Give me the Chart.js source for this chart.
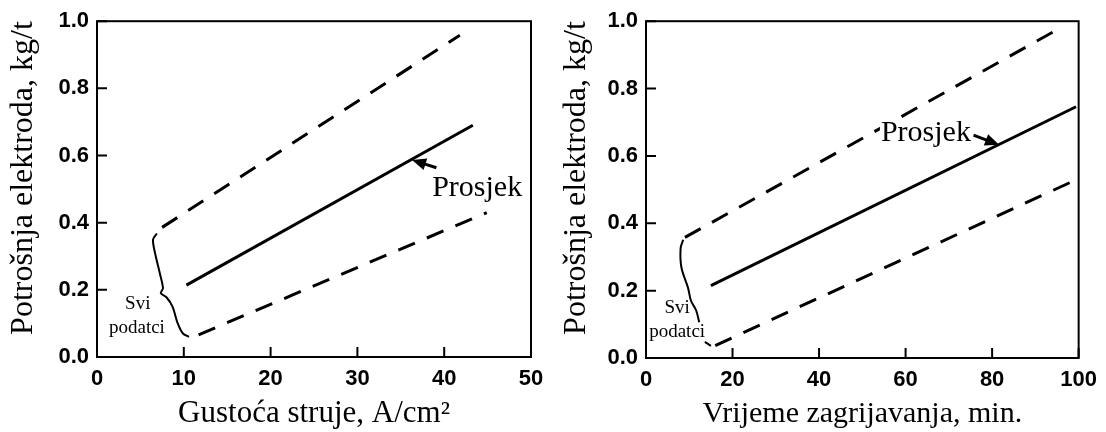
<!DOCTYPE html>
<html>
<head>
<meta charset="utf-8">
<script src="https://cdn.jsdelivr.net/npm/chart.js@4.4.0/dist/chart.umd.min.js"></script>
<style>
    body { margin: 0; background: #fff; }
    #okvir { position: relative; width: 1106px; height: 432px; }
    #lijevi { position: absolute; left: 0; top: 0; }
    #desni { position: absolute; left: 553px; top: 0; }
</style>
</head>
<body>
<div id="okvir">
    <canvas id="lijevi" width="553" height="432"></canvas>
    <canvas id="desni" width="553" height="432"></canvas>
</div>
<script>
// Lijevi graf - gustoća struje
const gustocaGornjaX = [7.5, 41.8];
const gustocaGornjaY = [0.386, 0.958];
const gustocaProsjekX = [10.3, 43.3];
const gustocaProsjekY = [0.214, 0.69];
const gustocaDonjaX = [11.7, 44.9];
const gustocaDonjaY = [0.066, 0.43];
const gustocaZagradaX = [6.9, 6.45, 6.7, 7.25, 7.6, 7.35, 8.0, 8.7, 9.3, 9.9, 10.6];
const gustocaZagradaY = [0.368, 0.35, 0.308, 0.248, 0.205, 0.19, 0.178, 0.15, 0.1, 0.07, 0.06];

// Desni graf - vrijeme zagrijavanja
const vrijemeGornjaX = [9, 96.6];
const vrijemeGornjaY = [0.358, 0.986];
const vrijemeProsjekX = [15, 99.4];
const vrijemeProsjekY = [0.215, 0.746];
const vrijemeDonjaX = [16, 98.7];
const vrijemeDonjaY = [0.037, 0.525];
const vrijemeZagradaX = [8.6, 8.0, 8.2, 9.7, 10.4, 11.6, 12.3, 12.9, 13.6, 15.0];
const vrijemeZagradaY = [0.351, 0.326, 0.268, 0.209, 0.17, 0.141, 0.106, null, 0.048, 0.036];

// Osi
const gustocaTickovi = [0, 10, 20, 30, 40, 50];
const vrijemeTickovi = [0, 20, 40, 60, 80, 100];
const potrosnjaTickovi = [0, 0.2, 0.4, 0.6, 0.8, 1.0];

// Natpisi (koordinate u jedinicama podataka)
const gustocaNatpisi = [
    { tekst: 'Prosjek', x: 43.8, y: 0.48, velicina: 30 },
    { tekst: 'Svi', x: 4.7, y: 0.142, velicina: 19 },
    { tekst: 'podatci', x: 4.6, y: 0.07, velicina: 19 }
];
const gustocaStrelice = [{ x1: 39.1, y1: 0.5635, x2: 36.3, y2: 0.587 }];

const vrijemeNatpisi = [
    { tekst: 'Prosjek', x: 64.7, y: 0.645, velicina: 30, pozadina: true },
    { tekst: 'Svi', x: 7.2, y: 0.133, velicina: 19 },
    { tekst: 'podatci', x: 7.2, y: 0.0625, velicina: 19 }
];
const vrijemeStrelice = [{ x1: 75.7, y1: 0.662, x2: 81.6, y2: 0.633 }];

// pretvori dva niza u točke
function tocke(xs, ys) {
    return xs.map((x, i) => ({ x: x, y: ys[i] }));
}

// okvir, unutarnje crtice, strelice i natpisi
const okvirPlugin = {
    id: 'okvir',
    afterDatasetsDraw(chart, args, opts) {
        const ctx = chart.ctx;
        const a = chart.chartArea;
        const sx = chart.scales.x;
        const sy = chart.scales.y;
        ctx.save();
        ctx.strokeStyle = '#000';
        ctx.fillStyle = '#000';

        // natpisi
        (opts.natpisi || []).forEach(n => {
            ctx.font = n.velicina + 'px "Liberation Serif"';
            ctx.textAlign = 'center';
            ctx.textBaseline = 'alphabetic';
            const px = sx.getPixelForValue(n.x);
            const py = sy.getPixelForValue(n.y);
            if (n.pozadina) {
                const w = ctx.measureText(n.tekst).width;
                ctx.fillStyle = '#fff';
                ctx.fillRect(px - w / 2 - 1, py - n.velicina * 0.72, w + 2, n.velicina * 0.72);
                ctx.fillStyle = '#000';
            }
            ctx.fillText(n.tekst, px, py);
        });

        // strelice
        (opts.strelice || []).forEach(s => {
            const x1 = sx.getPixelForValue(s.x1), y1 = sy.getPixelForValue(s.y1);
            const x2 = sx.getPixelForValue(s.x2), y2 = sy.getPixelForValue(s.y2);
            const kut = Math.atan2(y2 - y1, x2 - x1);
            const duz = 14, pola = 6;
            ctx.lineWidth = 3;
            ctx.beginPath();
            ctx.moveTo(x1, y1);
            ctx.lineTo(x2 - Math.cos(kut) * duz * 0.8, y2 - Math.sin(kut) * duz * 0.8);
            ctx.stroke();
            ctx.beginPath();
            ctx.moveTo(x2, y2);
            ctx.lineTo(x2 - Math.cos(kut) * duz - Math.sin(kut) * pola, y2 - Math.sin(kut) * duz + Math.cos(kut) * pola);
            ctx.lineTo(x2 - Math.cos(kut) * duz + Math.sin(kut) * pola, y2 - Math.sin(kut) * duz - Math.cos(kut) * pola);
            ctx.closePath();
            ctx.fill();
        });

        // okvir
        ctx.lineWidth = 2;
        ctx.strokeRect(a.left, a.top, a.right - a.left, a.bottom - a.top);

        // crtice prema unutra
        ctx.beginPath();
        sx.ticks.forEach(t => {
            const px = sx.getPixelForValue(t.value);
            ctx.moveTo(px, a.bottom);
            ctx.lineTo(px, a.bottom - 10);
        });
        sy.ticks.forEach(t => {
            const py = sy.getPixelForValue(t.value);
            ctx.moveTo(a.left, py);
            ctx.lineTo(a.left + 10, py);
        });
        ctx.stroke();
        ctx.restore();
    }
};

// zajednički skupovi podataka
function skupovi(gornja, prosjek, donja, zagrada) {
    const crtkano = { borderColor: '#000', borderWidth: 3, borderDash: [18, 13], pointRadius: 0, showLine: true };
    return [
        Object.assign({ label: 'gornja granica', data: gornja }, crtkano),
        { label: 'Prosjek', data: prosjek, borderColor: '#000', borderWidth: 3, pointRadius: 0, showLine: true },
        Object.assign({ label: 'donja granica', data: donja }, crtkano),
        { label: 'Svi podatci', data: zagrada, borderColor: '#000', borderWidth: 2, pointRadius: 0, showLine: true, spanGaps: false, tension: 0.3 }
    ];
}

// konfiguracija jednog grafa
function napraviGraf(id, cfg) {
    const tickFont = { family: 'Liberation Sans', size: 22, weight: 'bold' };
    return new Chart(document.getElementById(id), {
        type: 'scatter',
        data: { datasets: cfg.skupovi },
        plugins: [okvirPlugin],
        options: {
            responsive: false,
            animation: false,
            events: [],
            layout: { padding: cfg.padding },
            plugins: {
                legend: { display: false },
                tooltip: { enabled: false },
                okvir: { natpisi: cfg.natpisi, strelice: cfg.strelice }
            },
            scales: {
                x: {
                    type: 'linear',
                    min: cfg.xTickovi[0],
                    max: cfg.xTickovi[cfg.xTickovi.length - 1],
                    afterBuildTicks: s => { s.ticks = cfg.xTickovi.map(v => ({ value: v })); },
                    afterFit: s => { s.height = cfg.visinaX; },
                    grid: { display: false, drawTicks: false },
                    border: { display: false },
                    ticks: { color: '#000', font: tickFont, padding: 9, maxRotation: 0 },
                    title: {
                        display: true, text: cfg.xNaslov, color: '#000',
                        font: { family: 'Liberation Serif', size: cfg.xNaslovVelicina },
                        padding: { top: 0, bottom: 0 }
                    }
                },
                y: {
                    type: 'linear',
                    min: 0,
                    max: 1,
                    afterBuildTicks: s => { s.ticks = potrosnjaTickovi.map(v => ({ value: v })); },
                    afterFit: s => { s.width = cfg.sirinaY; },
                    grid: { display: false, drawTicks: false },
                    border: { display: false },
                    ticks: { color: '#000', font: tickFont, padding: 8, callback: v => v.toFixed(1) },
                    title: {
                        display: true, text: 'Potrošnja elektroda, kg/t', color: '#000', align: 'end',
                        font: { family: 'Liberation Serif', size: 32 },
                        padding: { top: 4, bottom: 0 }
                    }
                }
            }
        }
    });
}

napraviGraf('lijevi', {
    skupovi: skupovi(
        tocke(gustocaGornjaX, gustocaGornjaY),
        tocke(gustocaProsjekX, gustocaProsjekY),
        tocke(gustocaDonjaX, gustocaDonjaY),
        tocke(gustocaZagradaX, gustocaZagradaY)
    ),
    xTickovi: gustocaTickovi,
    xNaslov: 'Gustoća struje, A/cm²',
    xNaslovVelicina: 31,
    natpisi: gustocaNatpisi,
    strelice: gustocaStrelice,
    padding: { top: 20, right: 22, left: 0, bottom: 0 },
    sirinaY: 97,
    visinaX: 75
});

napraviGraf('desni', {
    skupovi: skupovi(
        tocke(vrijemeGornjaX, vrijemeGornjaY),
        tocke(vrijemeProsjekX, vrijemeProsjekY),
        tocke(vrijemeDonjaX, vrijemeDonjaY),
        tocke(vrijemeZagradaX, vrijemeZagradaY)
    ),
    xTickovi: vrijemeTickovi,
    xNaslov: 'Vrijeme zagrijavanja, min.',
    xNaslovVelicina: 30,
    natpisi: vrijemeNatpisi,
    strelice: vrijemeStrelice,
    padding: { top: 17, right: 23, left: 0, bottom: 0 },
    sirinaY: 93,
    visinaX: 74
});
</script>
</body>
</html>
